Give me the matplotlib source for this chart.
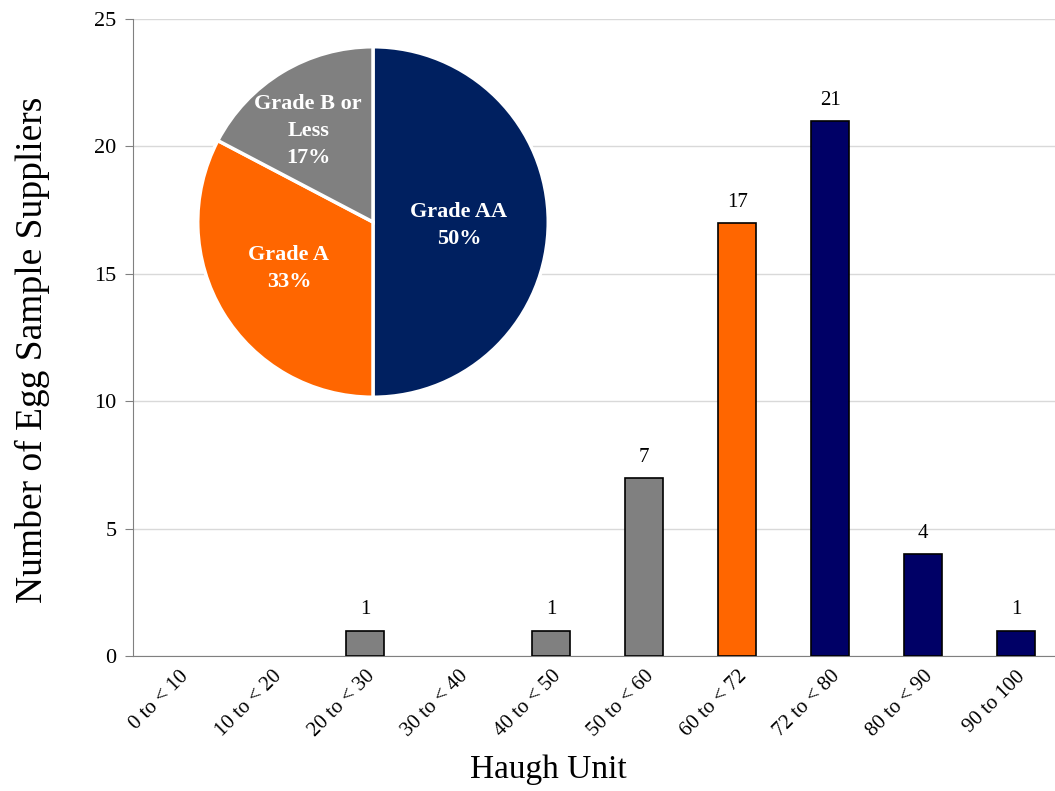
import matplotlib
matplotlib.use("Agg")
import matplotlib.pyplot as plt

plt.rcParams['font.family'] = ['Liberation Serif', 'DejaVu Serif']

categories = ["0 to < 10", "10 to < 20", "20 to < 30", "30 to < 40", "40 to < 50",
              "50 to < 60", "60 to < 72", "72 to < 80", "80 to < 90", "90 to 100"]
counts = [0, 0, 1, 0, 1, 7, 17, 21, 4, 1]
grades = ["B", "B", "B", "B", "B", "B", "A", "AA", "AA", "AA"]

grade_names = ["Grade AA", "Grade A", "Grade B or\nLess"]
grade_keys = ["AA", "A", "B"]

bar_colors = {"B": "#808080", "A": "#FF6600", "AA": "#000066"}
pie_colors = ["#002060", "#FF6600", "#808080"]

fig = plt.figure(figsize=(10.55, 7.91), dpi=100)
ax = fig.add_axes([133 / 1055, 1 - 656 / 791, (1055 - 133) / 1055, (656 - 19) / 791])

x = list(range(len(categories)))
ax.bar(x, counts, width=0.41, color=[bar_colors[g] for g in grades],
       edgecolor="black", linewidth=[1.2 if c > 0 else 0 for c in counts], zorder=3)
for xi, c in zip(x, counts):
    if c > 0:
        ax.annotate(str(c), (xi, c), xytext=(0, 8), textcoords="offset points",
                    ha="center", va="bottom", fontsize=15)

ax.set_xlim(-0.5, 9.42)
ax.set_ylim(0, 25)
ax.set_yticks([0, 5, 10, 15, 20, 25])
ax.tick_params(axis="y", labelsize=16, length=6, color="#808080", pad=6)
ax.tick_params(axis="x", length=0, labelsize=15, pad=8)
ax.set_xticks(x)
ax.set_xticklabels(categories, rotation=45, ha="right", rotation_mode="anchor")
ax.yaxis.grid(True, color="#d9d9d9", linewidth=1.0, zorder=0)
ax.set_axisbelow(True)
for s in ["top", "right"]:
    ax.spines[s].set_visible(False)
ax.spines["left"].set_color("#808080")
ax.spines["bottom"].set_color("#808080")

fig.text(548 / 1055, 1 - 770 / 791, "Haugh Unit", ha="center", va="center", fontsize=24)
fig.text(32 / 1055, 1 - 350 / 791, "Number of Egg Sample Suppliers", ha="center",
         va="center", rotation=90, fontsize=27)

# Share of suppliers per grade, summed from the histogram
totals = [sum(c for c, g in zip(counts, grades) if g == k) for k in grade_keys]
total = sum(totals)

pax = fig.add_axes([196 / 1055, 1 - 399 / 791, 354 / 1055, 354 / 791])
pax.pie(totals, colors=pie_colors, startangle=90, counterclock=False,
        wedgeprops=dict(edgecolor="white", linewidth=2.5))
pax.set_xlim(-1.01, 1.01)
pax.set_ylim(-1.01, 1.01)
pax.set_aspect("equal")

label_pos = [(0.49, -0.02), (-0.48, -0.265), (-0.37, 0.52)]
for name, t, (lx, ly) in zip(grade_names, totals, label_pos):
    pax.text(lx, ly, f"{name}\n{round(100 * t / total)}%", ha="center", va="center",
             color="white", fontsize=16, fontweight="bold", linespacing=1.45)

fig.savefig("out.png", dpi=100)
